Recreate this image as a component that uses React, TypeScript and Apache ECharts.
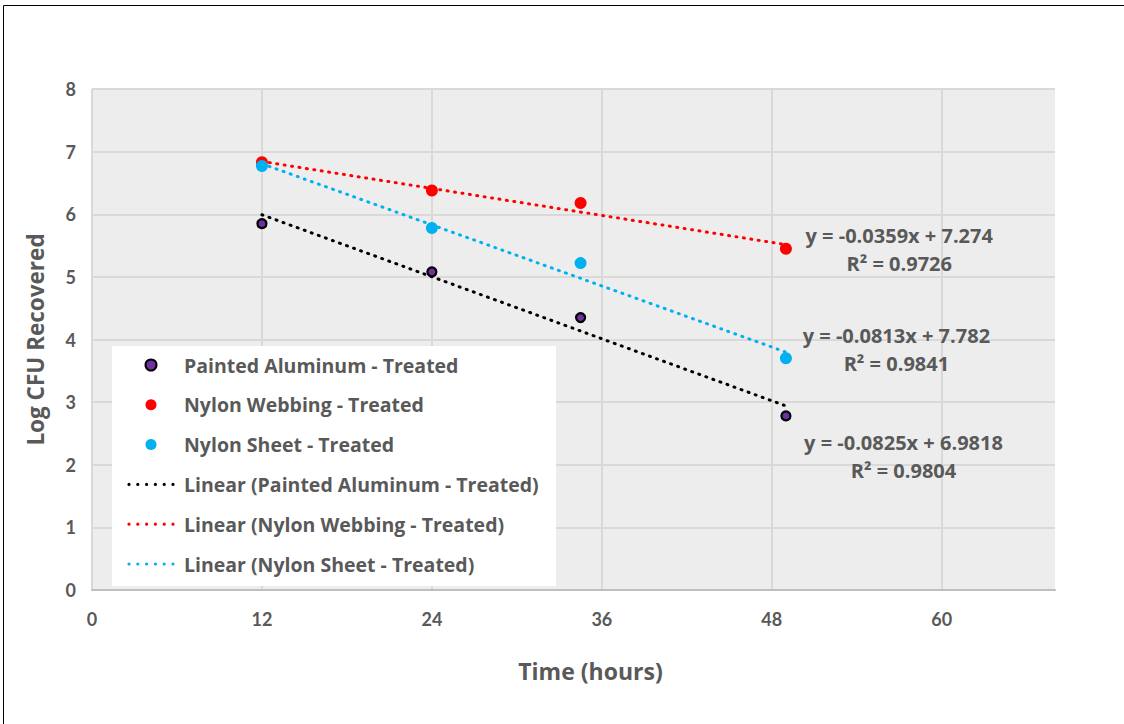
import React, { useEffect, useRef } from "react";
import * as echarts from "echarts";

const seriesNames = ["Painted Aluminum - Treated", "Nylon Webbing - Treated", "Nylon Sheet - Treated"];
const timesHours = [12, 24, 34.5, 49];
const paintedAluminum = [5.85, 5.08, 4.35, 2.78];
const nylonWebbing = [6.83, 6.38, 6.18, 5.45];
const nylonSheet = [6.77, 5.78, 5.22, 3.7];
const trendSlopes = [-0.0825, -0.0359, -0.0813];
const trendIntercepts = [6.9818, 7.274, 7.782];
const trendR2 = ["0.9804", "0.9726", "0.9841"];
const trendEquations = ["y = -0.0825x + 6.9818", "y = -0.0359x + 7.274", "y = -0.0813x + 7.782"];
const trendRange = [12, 49];
const equationAnchors = [
  [57.3, 2.13],
  [57.0, 5.43],
  [56.8, 3.84],
];
const markerColors = ["#7030A0", "#FF0000", "#00B0F0"];
const lineColors = ["#000000", "#FF0000", "#00B0F0"];
const xTicks = [0, 12, 24, 36, 48, 60];

const FONT = "'Open Sans', Lato, sans-serif";
const TICK_FONT = "Lato, 'Open Sans', sans-serif";
const GREY = "#595959";

// dotted legend icon: 6 dots inside a 48x11 box (the two moves fix the bounds)
function dottedIcon() {
  let d = "M0,0 M48,11";
  for (let i = 0; i < 6; i++) {
    const cx = 2 + i * 8.8;
    d += ` M${cx - 1.6},5.5 a1.6,1.6 0 1,0 3.2,0 a1.6,1.6 0 1,0 -3.2,0 z`;
  }
  return "path://" + d;
}

export default function App() {
  const ref = useRef<HTMLDivElement>(null);
  useEffect(() => {
    if (!ref.current) return;
    const chart = echarts.init(ref.current, undefined, { renderer: "svg" });
    const values = [paintedAluminum, nylonWebbing, nylonSheet];
    const scatterSeries = seriesNames.map((name, i) => ({
      name,
      type: "scatter",
      data: timesHours.map((t, j) => [t, values[i][j]]),
      symbol: "circle",
      symbolSize: i === 0 ? 9 : 12,
      itemStyle: {
        color: markerColors[i],
        borderColor: i === 0 ? "#000000" : markerColors[i],
        borderWidth: i === 0 ? 2.2 : 0,
        opacity: 1,
      },
      z: 3,
    }));
    const lineSeries = seriesNames.map((name, i) => ({
      name: `Linear (${name})`,
      type: "line",
      data: trendRange.map((x) => [x, trendSlopes[i] * x + trendIntercepts[i]]),
      symbol: "none",
      lineStyle: { color: lineColors[i], width: 3, type: [1, 6.5], cap: "round" },
      itemStyle: { color: lineColors[i] },
      z: 2,
      markPoint: {
        symbol: "circle",
        symbolSize: 0,
        silent: true,
        data: [
          {
            coord: equationAnchors[i],
            value: 0,
            label: {
              show: true,
              position: "inside",
              formatter: `${trendEquations[i]}\nR² = ${trendR2[i]}`,
              color: GREY,
              fontFamily: FONT,
              fontWeight: "bold",
              fontSize: 20,
              lineHeight: 28,
              align: "center",
            },
          },
        ],
      },
    }));
    const legendData = [
      ...seriesNames.map((n) => ({ name: n, icon: "circle" })),
      ...seriesNames.map((n) => ({ name: `Linear (${n})`, icon: dottedIcon() })),
    ];
    chart.setOption({
      animation: false,
      backgroundColor: "#ffffff",
      grid: { left: 92, right: 69, top: 89, bottom: 134, backgroundColor: "#EDEDED", show: true, borderWidth: 0 },
      xAxis: {
        type: "value",
        min: 0,
        max: 68,
        interval: 12,
        name: "Time (hours)",
        nameLocation: "middle",
        nameGap: 69,
        nameTextStyle: { color: GREY, fontFamily: FONT, fontWeight: "bold", fontSize: 23, padding: [0, 0, 0, 34] },
        axisLine: { show: true, lineStyle: { color: "#BFBFBF", width: 2 } },
        axisTick: { show: false },
        axisLabel: {
          color: GREY,
          fontFamily: TICK_FONT,
          fontWeight: "bold",
          fontSize: 18,
          margin: 20,
          showMaxLabel: false,
          formatter: (v: number) => (xTicks.includes(v) ? String(v) : ""),
        },
        splitLine: { show: true, lineStyle: { color: "#D9D9D9", width: 2 }, showMaxLine: false },
      },
      yAxis: {
        type: "value",
        min: 0,
        max: 8,
        interval: 1,
        name: "Log CFU Recovered",
        nameLocation: "middle",
        nameGap: 45,
        nameRotate: 90,
        nameTextStyle: { color: GREY, fontFamily: FONT, fontWeight: "bold", fontSize: 22.5 },
        axisLine: { show: false },
        axisTick: { show: false },
        axisLabel: { color: GREY, fontFamily: TICK_FONT, fontWeight: "bold", fontSize: 18, margin: 16 },
        splitLine: { show: true, lineStyle: { color: "#D9D9D9", width: 2 } },
      },
      legend: {
        data: legendData,
        orient: "vertical",
        left: 112,
        top: 345,
        padding: [10, 12, 10, 15],
        itemWidth: 48,
        itemHeight: 11,
        itemGap: 19.8,
        textStyle: { color: GREY, fontFamily: FONT, fontWeight: "bold", fontSize: 19.5, lineHeight: 20, padding: [0, 0, 0, 4] },
        z: 5,
      },
      graphic: [
        {
          type: "rect",
          z: 1,
          shape: { x: 112, y: 346, width: 444, height: 240 },
          style: { fill: "#ffffff" },
          silent: true,
        },
        {
          type: "rect",
          z: 10,
          shape: { x: 3.5, y: 5.5, width: 1130, height: 730 },
          style: { fill: "none", stroke: "#000000", lineWidth: 1 },
          silent: true,
        },
      ],
      series: [...scatterSeries, ...lineSeries],
    });
    return () => chart.dispose();
  }, []);
  return <div ref={ref} style={{ position: "fixed", left: 0, top: 0, width: 1124, height: 724 }} />;
}
